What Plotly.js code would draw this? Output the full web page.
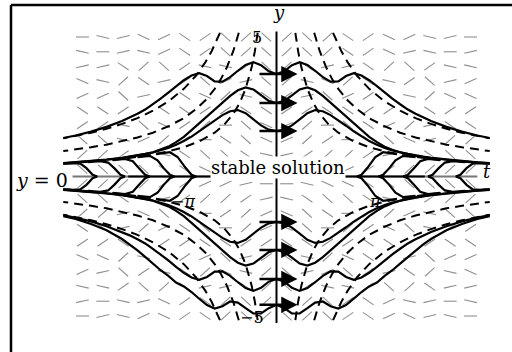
<!DOCTYPE html>
<html><head><meta charset="utf-8">
<script src="https://cdn.plot.ly/plotly-3.0.1.min.js"></script>
<style>html,body{margin:0;padding:0;background:#fff}#plot{width:512px;height:352px}</style>
</head><body><div id="plot"></div>
<script>
// Direction field of y' = sin(t y): grid positions and slope class of each cell
const fieldT = [-6.28,-5.62,-4.96,-4.30,-3.64,-2.97,-2.31,-1.65,-0.99,-0.33,0.33,0.99,1.65,2.31,2.97,3.64,4.30,4.96,5.62,6.28];
const fieldY = [5,4.47,3.95,3.42,2.89,2.37,1.84,1.32,0.79,0.26,-0.26,-0.79,-1.32,-1.84,-2.37,-2.89,-3.42,-3.95,-4.47,-5];
const fieldRows = [
  "0AaBbCcDdDdDdCcBbAa0",
  "A0aAbCcDdDdDdCcBaA0a",
  "aaCdDcAAcDdCaaCdDcAA",
  "BAdCacDbaDdABdCAcDab",
  "bbDadCBdACcaDbcDAdBB",
  "CCccCCccCCccCCccCCcc",
  "ccADBcd0DBbd0DCbdaCC",
  "DDAbdc0CDBbdc0CDBadd",
  "ddcaACDDCAacddcaACDD",
  "DDDDCCBBA00abbccdddd",
  "ddddccbba00ABBCCDDDD",
  "DDCAacddcaACDDCAacdd",
  "ddaBDC0cdbBDC0cdbADD",
  "CCadbCD0dbBD0dcBDAcc",
  "ccCCccCCccCCccCCccCC",
  "BBdADcbDacCAdBCdaDbb",
  "baDcACdBAdDabDcaCdAB",
  "AAcDdCaaCdDcAAcDdCaa",
  "a0AaBcCdDdDdDcCbAa0A",
  "0aAbBcCdDdDdDcCbBaA0"
];
const slopeOfCode = {"0":0,"a":0.25,"b":0.5,"c":0.75,"d":1,"A":-0.25,"B":-0.5,"C":-0.75,"D":-1};

// Solution curves through the marked starting values at t = 0
const solT = [-6.9,-6.5,-6,-5.5,-5,-4.75,-4.5,-4.25,-4,-3.75,-3.5,-3.25,-3,-2.75,-2.5,-2.25,-2,-1.75,-1.5,-1.25,-1,-0.75,-0.5,-0.25,0,0.25,0.5,0.75,1,1.25,1.5,1.75,2,2.25,2.5,2.75,3,3.25,3.5,3.75,4,4.25,4.5,4.75,5,5.5,6,6.5,6.9];
const upper1 = [0.47,0.50,0.54,0.60,0.66,0.70,0.74,0.80,0.86,0.93,1.02,1.14,1.27,1.43,1.62,1.82,2.02,2.20,2.34,2.38,2.27,2.05,1.83,1.68,1.63,1.68,1.83,2.05,2.27,2.38,2.34,2.20,2.02,1.82,1.62,1.43,1.27,1.14,1.02,0.93,0.86,0.80,0.74,0.70,0.66,0.60,0.54,0.50,0.47];
const upper2 = [0.48,0.51,0.55,0.61,0.67,0.71,0.75,0.81,0.87,0.96,1.07,1.23,1.42,1.66,1.91,2.15,2.40,2.65,2.89,3.09,3.19,3.12,2.91,2.71,2.63,2.71,2.91,3.12,3.19,3.09,2.89,2.65,2.40,2.15,1.91,1.66,1.42,1.23,1.07,0.96,0.87,0.81,0.75,0.71,0.67,0.61,0.55,0.51,0.48];
const upper3 = [1.38,1.47,1.61,1.78,1.99,2.11,2.25,2.40,2.59,2.79,3.01,3.24,3.45,3.62,3.70,3.60,3.41,3.40,3.56,3.79,4.00,4.10,3.99,3.77,3.67,3.77,3.99,4.10,4.00,3.79,3.56,3.40,3.41,3.60,3.70,3.62,3.45,3.24,3.01,2.79,2.59,2.40,2.25,2.11,1.99,1.78,1.61,1.47,1.38];
const lower1 = [-0.47,-0.50,-0.54,-0.60,-0.66,-0.70,-0.74,-0.80,-0.86,-0.93,-1.02,-1.14,-1.27,-1.43,-1.62,-1.82,-2.02,-2.20,-2.34,-2.38,-2.27,-2.05,-1.83,-1.68,-1.63,-1.68,-1.83,-2.05,-2.27,-2.38,-2.34,-2.20,-2.02,-1.82,-1.62,-1.43,-1.27,-1.14,-1.02,-0.93,-0.86,-0.80,-0.74,-0.70,-0.66,-0.60,-0.54,-0.50,-0.47];
const lower2 = [-0.48,-0.51,-0.55,-0.61,-0.67,-0.71,-0.75,-0.81,-0.87,-0.96,-1.07,-1.23,-1.42,-1.66,-1.91,-2.15,-2.40,-2.65,-2.89,-3.09,-3.19,-3.12,-2.91,-2.71,-2.63,-2.71,-2.91,-3.12,-3.19,-3.09,-2.89,-2.65,-2.40,-2.15,-1.91,-1.66,-1.42,-1.23,-1.07,-0.96,-0.87,-0.81,-0.75,-0.71,-0.67,-0.61,-0.55,-0.51,-0.48];
const lower3 = [-1.38,-1.47,-1.61,-1.78,-1.99,-2.11,-2.25,-2.40,-2.59,-2.79,-3.01,-3.24,-3.45,-3.62,-3.70,-3.60,-3.41,-3.40,-3.56,-3.79,-4.00,-4.10,-3.99,-3.77,-3.67,-3.77,-3.99,-4.10,-4.00,-3.79,-3.56,-3.40,-3.41,-3.60,-3.70,-3.62,-3.45,-3.24,-3.01,-2.79,-2.59,-2.40,-2.25,-2.11,-1.99,-1.78,-1.61,-1.47,-1.38];
const lower4 = [-1.42,-1.52,-1.70,-1.93,-2.24,-2.43,-2.65,-2.88,-3.12,-3.36,-3.56,-3.80,-3.94,-4.14,-4.38,-4.61,-4.73,-4.65,-4.48,-4.52,-4.72,-4.91,-4.91,-4.72,-4.60,-4.72,-4.91,-4.91,-4.72,-4.52,-4.48,-4.65,-4.73,-4.61,-4.38,-4.14,-3.94,-3.80,-3.56,-3.36,-3.12,-2.88,-2.65,-2.43,-2.24,-1.93,-1.70,-1.52,-1.42];
const startY = [3.67,2.63,1.63,-1.63,-2.63,-3.67,-4.60];

// Zero-slope hyperbolas t*y = k*pi (first quadrant; drawn in all four quadrants)
const iso1T = [0.61,0.65,0.7,0.8,0.9,1.0,1.2,1.4,1.7,2.0,2.5,3.0,3.5,4.0,5.0,6.0,6.9];
const iso1Y = [5.15,4.83,4.49,3.93,3.49,3.14,2.62,2.24,1.85,1.57,1.26,1.05,0.90,0.785,0.628,0.524,0.455];
const iso2T = [1.22,1.3,1.4,1.6,1.8,2.0,2.3,2.6,3.0,3.5,4.0,4.5,5.0,5.5,6.0,6.9];
const iso2Y = [5.15,4.83,4.49,3.93,3.49,3.14,2.73,2.42,2.09,1.80,1.57,1.40,1.26,1.14,1.05,0.91];
const iso3T = [1.83,1.95,2.1,2.3,2.6,3.0,3.5,4.0,4.5,5.0,5.5,6.0,6.5,6.9];
const iso3Y = [5.15,4.83,4.49,4.10,3.62,3.14,2.69,2.36,2.09,1.885,1.71,1.57,1.45,1.366];

// Solutions leaving the t axis (first quadrant; drawn in all four quadrants)
const leaveT = [2.6,2.75,2.95,3.2,3.45,3.9,null,3.3,3.45,3.65,3.85,4.1,4.5,null,4.1,4.25,4.45,4.65,4.9,5.3,null,4.9,5.05,5.25,5.45,5.7,6.1,null,5.8,5.95,6.15,6.35,6.6,6.9];
const leaveY = [0,0.06,0.32,0.7,0.87,0.8,null,0,0.06,0.3,0.58,0.74,0.69,null,0,0.06,0.3,0.55,0.63,0.59,null,0,0.06,0.3,0.5,0.55,0.515,null,0,0.06,0.3,0.46,0.475,0.455];

const xRange = [-8.948, 7.621], yRange = [-6.290, 6.326];
const W = 512, H = 352;
const pxT = W / (xRange[1] - xRange[0]), pxY = H / (yRange[1] - yRange[0]);

const segT = [], segY = [];
const halfLen = 6.5;
fieldRows.forEach((row, r) => {
  for (let c = 0; c < fieldT.length; c++) {
    const s = slopeOfCode[row[c]];
    const th = Math.atan2(s * pxY, pxT);
    const dt = halfLen * Math.cos(th) / pxT, dy = halfLen * Math.sin(th) / pxY;
    segT.push(fieldT[c] - dt, fieldT[c] + dt, null);
    segY.push(fieldY[r] - dy, fieldY[r] + dy, null);
  }
});

const flip = (arr, sgn) => arr.map(v => v === null ? null : sgn * v);
const black = {color: '#000', width: 2.2};
const dashed = {color: '#000', width: 2, dash: '9px,6px'};

const traces = [
  {x: segT, y: segY, mode: 'lines', line: {color: '#8f8f8f', width: 1.1}},
  {x: [-6.6, 6.5], y: [0, 0], mode: 'lines', line: {color: '#777', width: 2}},
  {x: [-4.8, 4.8], y: [0, 0], mode: 'lines', line: {color: '#000', width: 2.2}},
  {x: [0, 0], y: [5.2, -5.25], mode: 'lines', line: {color: '#000', width: 2}}
];
[[iso1T, iso1Y], [iso2T, iso2Y], [iso3T, iso3Y]].forEach(([tt, yy]) => {
  [[1, 1], [-1, 1], [1, -1], [-1, -1]].forEach(([a, b]) => {
    traces.push({x: flip(tt, a), y: flip(yy, b), mode: 'lines', line: dashed});
  });
});
[upper1, upper2, upper3, lower1, lower2, lower3, lower4].forEach(yy => {
  traces.push({x: solT, y: yy, mode: 'lines', line: black});
});
[[1, 1], [-1, 1], [1, -1], [-1, -1]].forEach(([a, b]) => {
  traces.push({x: flip(leaveT, a), y: flip(leaveY, b), mode: 'lines', line: black, connectgaps: false});
});
traces.forEach(tr => { tr.hoverinfo = 'skip'; tr.showlegend = false; });

const serif = 'DejaVu Serif, serif';
const txt = (x, y, text, size, extra) => Object.assign({x, y, text, showarrow: false, xref: 'x', yref: 'y', font: {family: serif, size, color: '#000'}}, extra || {});
const annotations = [
  txt(0.08, 5.88, '<i>y</i>', 18),
  txt(6.81, 0.18, '<i>t</i>', 18),
  txt(-7.6, -0.11, '<i>y</i> = 0', 19),
  txt(0.05, 0.33, 'stable solution', 18, {bgcolor: '#fff', borderpad: 0}),
  txt(-0.63, 5.0, '5', 16),
  txt(-0.79, -5.07, '\u22125', 16),
  txt(3.19, -0.88, '<i>\u03c0</i>', 16),
  txt(-3.03, -0.88, '\u2212<i>\u03c0</i>', 16)
];
startY.forEach(v => annotations.push({
  x: 0.68, y: v, ax: -0.6, ay: v, axref: 'x', ayref: 'y', xref: 'x', yref: 'y',
  text: '', showarrow: true, arrowhead: 2, arrowsize: 1.3, arrowwidth: 2.5, arrowcolor: '#000'
}));

const layout = {
  width: W, height: H,
  margin: {l: 0, r: 0, t: 0, b: 0},
  paper_bgcolor: '#fff', plot_bgcolor: '#fff',
  showlegend: false,
  xaxis: {range: xRange, visible: false, fixedrange: true},
  yaxis: {range: yRange, visible: false, fixedrange: true},
  shapes: [
    {type: 'line', xref: 'paper', yref: 'paper', x0: 11/512, x1: 1, y0: 1 - 5/352, y1: 1 - 5/352, line: {color: '#000', width: 2.5}},
    {type: 'line', xref: 'paper', yref: 'paper', x0: 11/512, x1: 11/512, y0: 0, y1: 1 - 5/352, line: {color: '#000', width: 2.5}}
  ],
  annotations: annotations
};
Plotly.newPlot('plot', traces, layout, {staticPlot: true, displayModeBar: false});
</script></body></html>
